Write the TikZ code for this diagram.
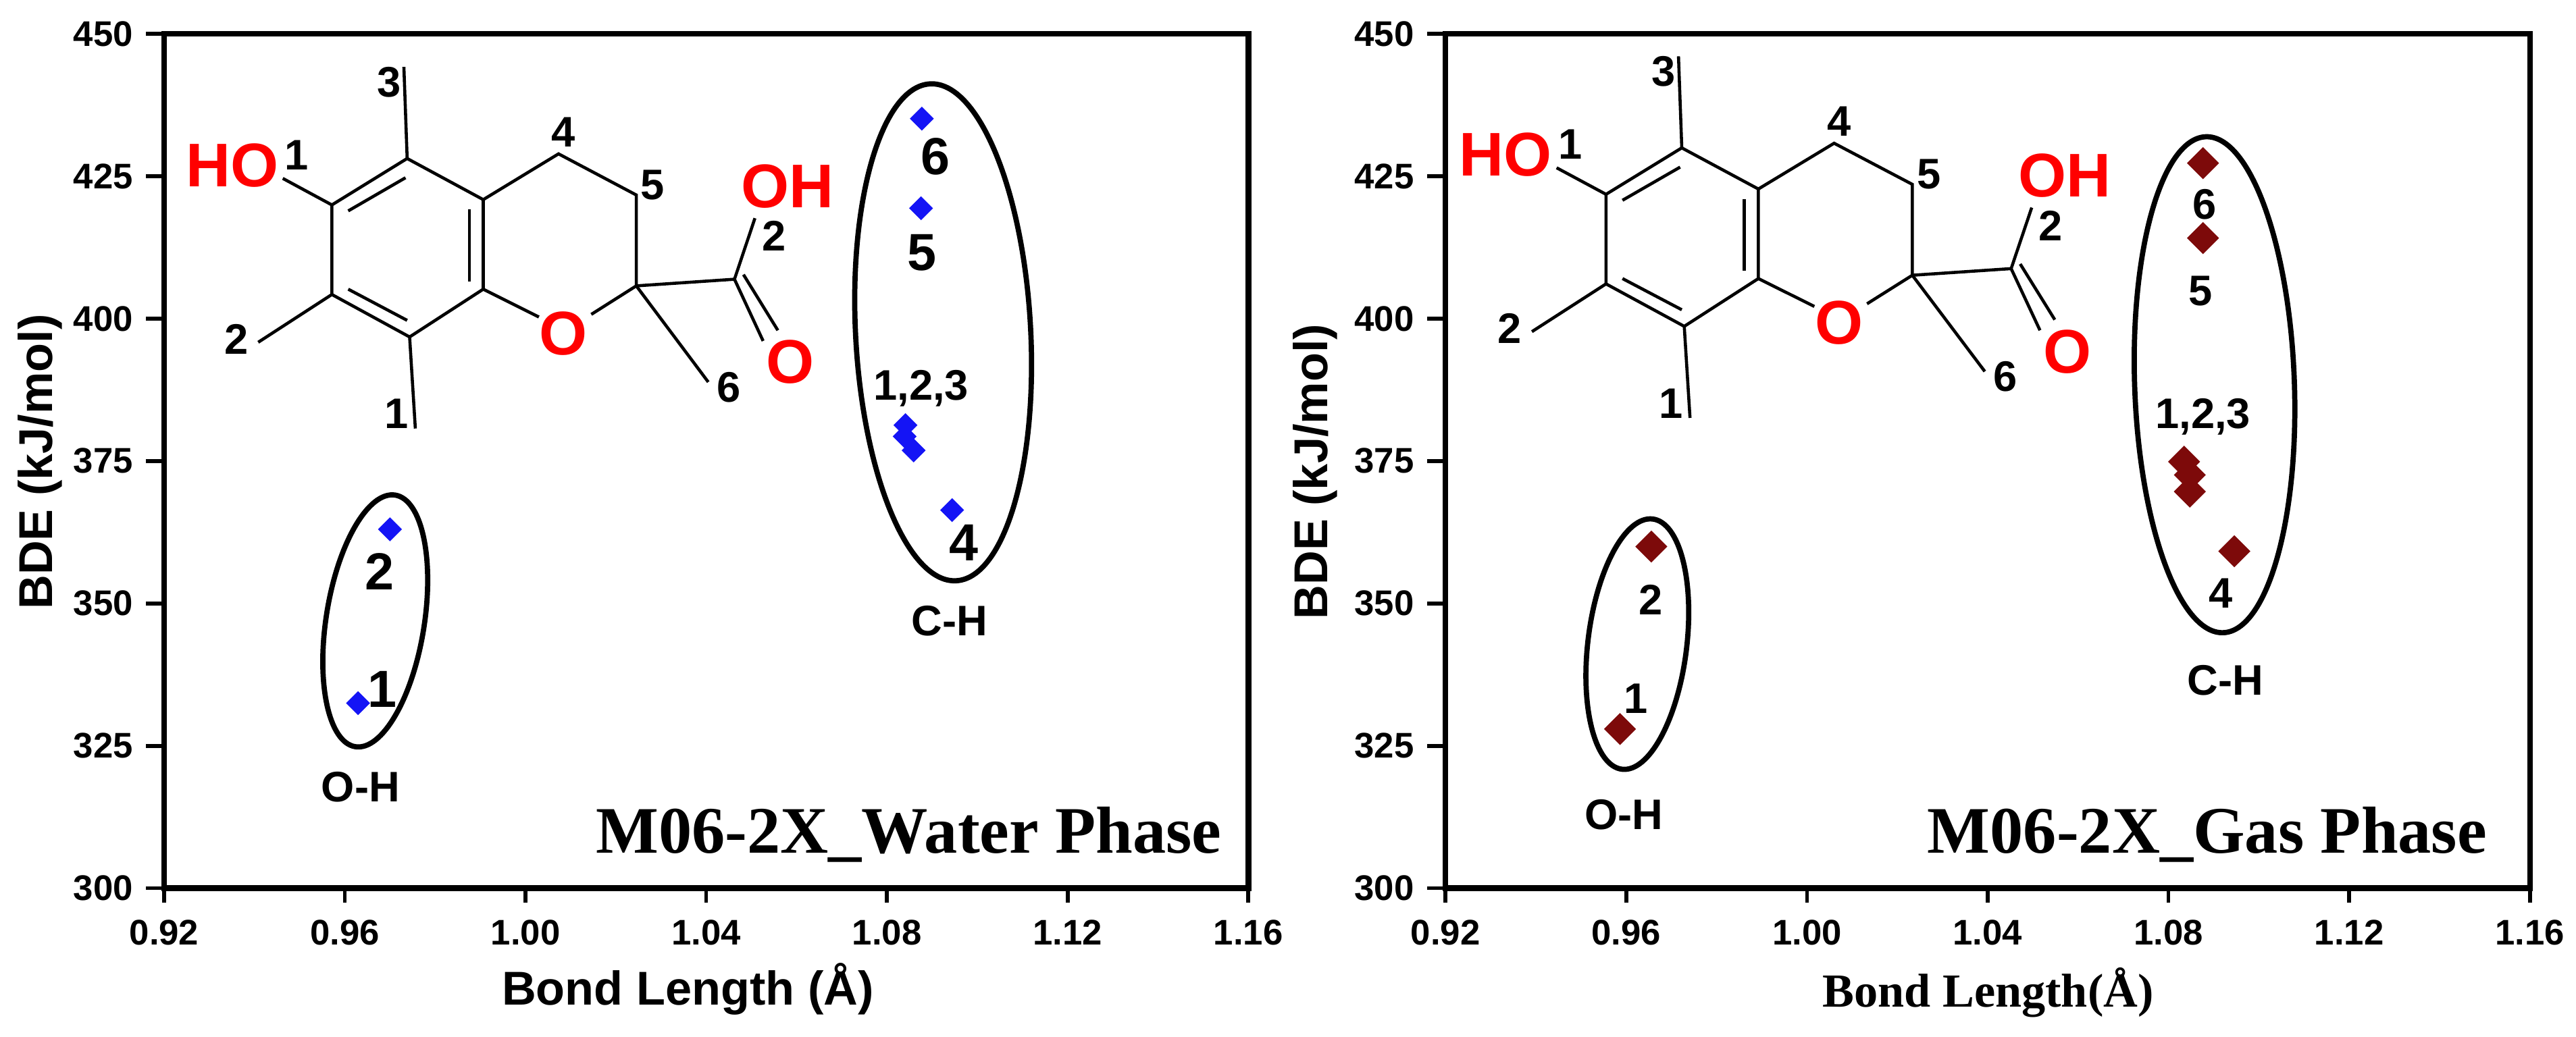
\documentclass[tikz,border=0pt]{standalone}
\usepackage{fontspec}
\setmainfont{Liberation Sans}
\newfontfamily\serifb{Liberation Serif}
\usetikzlibrary{shapes.geometric}
\definecolor{dred}{RGB}{125,10,10}
\definecolor{mblue}{RGB}{20,20,245}
\tikzset{
 frame/.style={line width=2.4pt},
 tk/.style={line width=1.6pt},
 tl/.style={font=\bfseries\fontsize{15}{15}\selectfont},
 bond/.style={line width=1.3pt},
 atomr/.style={text=red,font=\bfseries\fontsize{26}{26}\selectfont,inner sep=0pt},
 num/.style={font=\bfseries\fontsize{18}{18}\selectfont,inner sep=0pt},
 bignum/.style={font=\bfseries\fontsize{22}{22}\selectfont,inner sep=0pt},
 grp/.style={font=\bfseries\fontsize{18}{18}\selectfont,inner sep=0pt},
 ell/.style={line width=2.2pt},
 bd/.style={diamond,fill=mblue,inner sep=0pt,minimum size=0.36cm},
 rd/.style={diamond,fill=dred,inner sep=0pt,minimum size=0.48cm},
 ttl/.style={font=\serifb\bfseries\fontsize{28}{28}\selectfont,inner sep=0pt},
}
\newcommand{\drawmol}{%
 \coordinate (a1) at (497,243); \coordinate (a2) at (590,305); \coordinate (a3) at (590,440);
 \coordinate (a4) at (500,512); \coordinate (a5) at (405,448); \coordinate (a6) at (405,313);
 \draw[bond] (a1)--(a2)--(a3)--(a4)--(a5)--(a6)--cycle;
 \draw[bond] (425,322)--(495,272); \draw[bond] (425,440)--(497,487); \draw[bond] (573,320)--(573,428);
 \draw[bond] (a1)--(493,105); \node[num] (n3) at (475,128) {3};
 \draw[bond] (a6)--(345,273); \node[atomr] (ho) at (283,253) {HO}; \node[num] (n1a) at (362,238) {1};
 \draw[bond] (a5)--(315,520); \node[num] (n2a) at (288,515) {2};
 \draw[bond] (a4)--(507,650); \node[num] (n1b) at (484,628) {1};
 \coordinate (b1) at (682,236); \coordinate (b2) at (777,298); \coordinate (b3) at (777,435);
 \node[atomr] (ox) at (688,507) {O};
 \draw[bond] (a2)--(b1)--(b2)--(b3)--(722,478); \draw[bond] (658,482)--(a3);
 \node[num] (n4) at (688,203) {4}; \node[num] (n5) at (797,283) {5};
 \coordinate (cc) at (897,425);
 \draw[bond] (b3)--(cc); \draw[bond] (cc)--(922,333);
 \draw[bond] (cc)--(932,518); \draw[bond] (908,418)--(950,502);
 \node[atomr] (o2) at (965,550) {O}; \node[num] (n2b) at (945,360) {2}; \node[atomr] (oh) at (962,285) {OH};
 \draw[bond] (b3)--(865,580); \node[num] (n6) at (890,588) {6};
}
\newcommand{\drawaxes}[4]{% left,top,right,bottom
 \draw[frame] (#1,#2) rectangle (#3,#4);
 \foreach \k/\lab in {0/0.92,1/0.96,2/1.00,3/1.04,4/1.08,5/1.12,6/1.16}{
  \pgfmathsetmacro{\xx}{#1+\k*(#3-#1)/6}
  \draw[tk] (\xx,#4)--(\xx,#4+22);
  \node[tl,anchor=north] at (\xx,#4+35) {\lab};}
 \foreach \k/\lab in {0/300,1/325,2/350,3/375,4/400,5/425,6/450}{
  \pgfmathsetmacro{\yy}{#4-\k*(#4-#2)/6}
  \draw[tk] (#1,\yy)--(#1-22,\yy);
  \node[tl,anchor=east] at (#1-28,\yy) {\lab};}
}
\begin{document}
\begin{tikzpicture}
\useasboundingbox (0,0) rectangle (38.14,15.36);
% ---------- left panel (zoom coordinates)
\begin{scope}[shift={(0.007,15.40)},x=0.012113cm,y=-0.009821cm]
 \drawaxes{200}{55}{1525}{1343}
 \node[font=\bfseries\fontsize{20}{20}\selectfont] (xl) at (840,1495) {Bond Length (Å)};
 \node[font=\bfseries\fontsize{20}{20}\selectfont,rotate=90] (yl) at (48,700) {BDE (kJ/mol)};
 \drawmol
 \node[bd] (p6) at (1126,183) {}; \node[bd] (p5) at (1125,318) {};
 \node[bd] (p1) at (1106,645) {}; \node[bd] (p2) at (1105,662) {}; \node[bd] (p3) at (1116,683) {};
 \node[bd] (p4) at (1163,773) {}; \node[bd] (q2) at (476,802) {}; \node[bd] (q1) at (437,1064) {};
 \node[bignum] (l6) at (1143,240) {6}; \node[bignum] (l5) at (1126,385) {5};
 \node[num] (l123) at (1125,590) {1,2,3}; \node[bignum] (l4) at (1177,822) {4};
 \node[bignum] (m2) at (463,866) {2}; \node[bignum] (m1) at (467,1043) {1};
 \draw[ell,rotate around={3:(1152,505)}] (1152,505) ellipse [x radius=107,y radius=375];
 \draw[ell,rotate around={-9:(458,940)}] (458,940) ellipse [x radius=60,y radius=192];
 \node[grp] (ch) at (1160,940) {C-H}; \node[grp] (oh1) at (440,1190) {O-H};
 \node[ttl] (t1) at (1110,1262) {M06-2X\_Water Phase};
\end{scope}
% ---------- right panel
\begin{scope}[shift={(19.17,15.40)},x=0.012187cm,y=-0.009821cm]
 \drawaxes{183}{55}{1500}{1343}
 \node[font=\serifb\bfseries\fontsize{20}{20}\selectfont] (xl2) at (842,1500) {Bond Length(Å)};
 \node[font=\bfseries\fontsize{20}{20}\selectfont,rotate=90] (yl2) at (25,715) {BDE (kJ/mol)};
 \begin{scope}[shift={(-27,-16)}]\drawmol\end{scope}
 \node[rd] (r6) at (1103,250) {}; \node[rd] (r5) at (1103,363) {};
 \node[rd] (r1) at (1080,700) {}; \node[rd] (r2) at (1087,720) {}; \node[rd] (r3) at (1087,745) {};
 \node[rd] (r4) at (1141,835) {}; \node[rd] (s2) at (433,828) {}; \node[rd] (s1) at (395,1103) {};
 \node[num] (k6) at (1105,312) {6}; \node[num] (k5) at (1100,443) {5};
 \node[num] (k123) at (1103,632) {1,2,3}; \node[num] (k4) at (1125,898) {4};
 \node[num] (j2) at (432,908) {2}; \node[num] (j1) at (414,1057) {1};
 \draw[ell,rotate around={2:(1117,584)}] (1117,584) ellipse [x radius=97,y radius=374];
 \draw[ell,rotate around={-7:(416,975)}] (416,975) ellipse [x radius=60,y radius=190];
 \node[grp] (ch2) at (1130,1030) {C-H}; \node[grp] (oh2) at (400,1232) {O-H};
 \node[ttl] (t2) at (1108,1262) {M06-2X\_Gas Phase};
\end{scope}
\end{tikzpicture}
\end{document}
